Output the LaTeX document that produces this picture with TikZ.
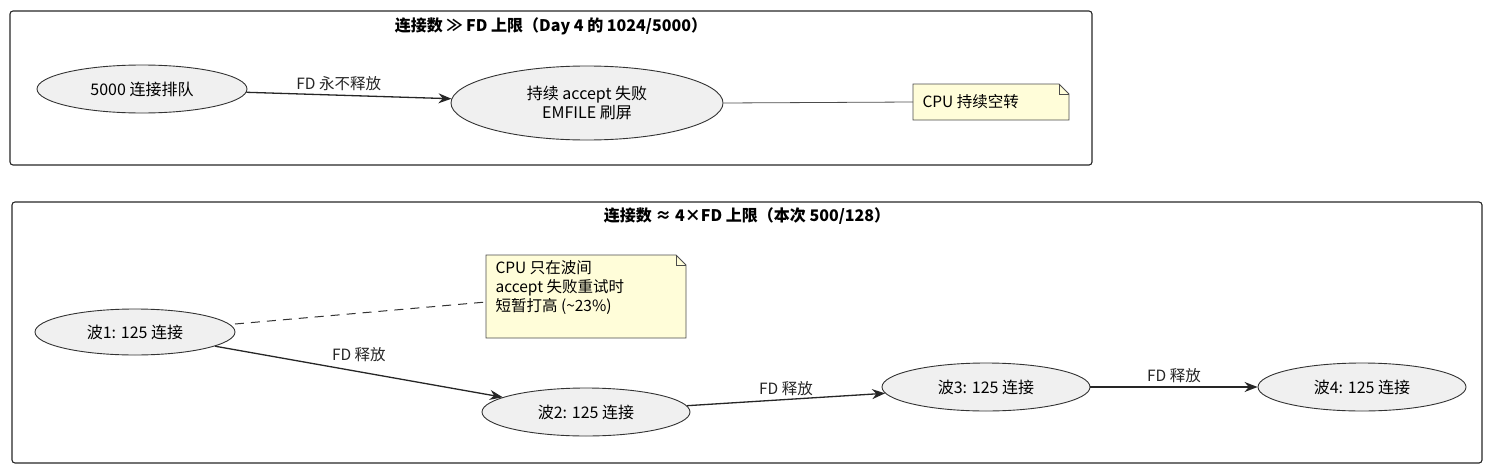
\documentclass[tikz,border=0pt]{standalone}
\usepackage{fontspec}
\usetikzlibrary{shapes.geometric,arrows.meta}
\setmainfont{Noto Sans CJK SC}
\begin{document}
\begin{tikzpicture}[x=1pt,y=-1pt,
  frame/.style={draw=black!85,rounded corners=3pt,line width=1.1pt},
  uc/.style={ellipse,draw=black!80,fill=black!6,line width=0.9pt,inner sep=0pt,font=\fontsize{16}{19}\selectfont,align=center},
  lbl/.style={font=\fontsize{15.5}{18}\selectfont},
  ttl/.style={font=\bfseries\fontsize{16}{19}\selectfont},
  arr/.style={-{Stealth[length=13pt,width=10pt]},line width=1.3pt,black!85},
  notetext/.style={font=\fontsize{15.5}{19}\selectfont,align=left}]
\useasboundingbox (0,0) rectangle (1498,471);
\draw[frame] (10,11) rectangle (1092,165);
\node[ttl] (t1) at (551,26) {连接数 ≫ FD 上限（Day 4 的 1024/5000）};
\draw[frame] (12,202) rectangle (1482,463);
\node[ttl] (t2) at (747,216) {连接数 ≈ 4×FD 上限（本次 500/128）};
\node[uc,minimum width=210,minimum height=48] (a) at (142,89) {5000 连接排队};
\node[uc,minimum width=272,minimum height=74] (b) at (587,103) {持续 accept 失败\\EMFILE 刷屏};
\node[uc,minimum width=200,minimum height=46] (w1) at (135,332) {波1: 125 连接};
\node[uc,minimum width=208,minimum height=48] (w2) at (586,412) {波2: 125 连接};
\node[uc,minimum width=208,minimum height=48] (w3) at (986,387) {波3: 125 连接};
\node[uc,minimum width=208,minimum height=48] (w4) at (1362,387) {波4: 125 连接};
% note 1
\draw[black!70,fill=yellow!15!white,line width=0.8pt] (913,84) -- (1059,84) -- (1069,94) -- (1069,120) -- (913,120) -- cycle;
\draw[black!70,line width=0.8pt] (1059,84) -- (1059,94) -- (1069,94);
\node[notetext,anchor=west] (n1) at (919,102) {CPU 持续空转};
\coordinate (n1l) at (913,102);
\draw[black!70,line width=0.8pt] (b.east) -- (n1l);
% note 2
\draw[black!70,fill=yellow!15!white,line width=0.8pt] (486,255) -- (676,255) -- (686,265) -- (686,338) -- (486,338) -- cycle;
\draw[black!70,line width=0.8pt] (676,255) -- (676,265) -- (686,265);
\node[notetext,anchor=north west] (n2) at (492,257) {CPU 只在波间\\accept 失败重试时\\短暂打高 (\textasciitilde 23\%)};
\coordinate (n2l) at (486,302);
\coordinate (w1e) at (235,324);
\draw[black!80,dash pattern=on 9pt off 7pt,line width=1pt] (w1e) -- (n2l);
% arrows
\draw[arr] (a) -- node[lbl,above,pos=0.45] {FD 永不释放} (b);
\draw[arr] (w1) -- node[lbl,above,pos=0.5,yshift=6pt] {FD 释放} (w2);
\draw[arr] (w2) -- node[lbl,above,pos=0.5] {FD 释放} (w3);
\draw[arr] (w3) -- node[lbl,above] {FD 释放} (w4);
\end{tikzpicture}
\end{document}
